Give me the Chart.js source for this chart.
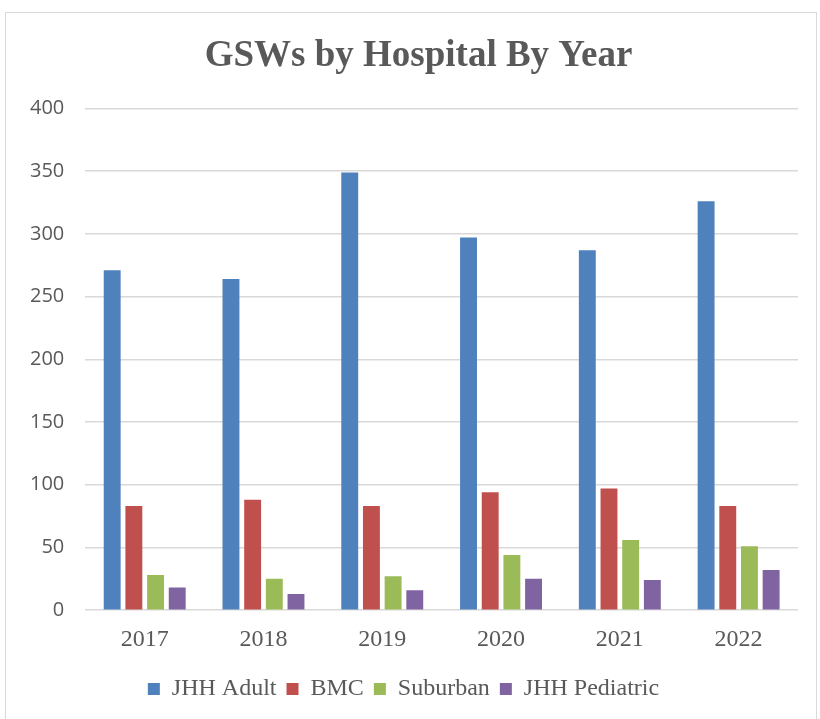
<!DOCTYPE html>
<html>
<head>
<meta charset="utf-8">
<script src="https://cdn.jsdelivr.net/npm/chart.js@4"></script>
<style>
  html, body { margin: 0; padding: 0; background: #fff; }
  #frame {
    position: absolute; left: 5px; top: 12px;
    width: 812px; height: 720px;
    border: 1px solid #d9d9d9; box-sizing: border-box;
  }
  #wrap { position: absolute; left: 0; top: 0; width: 820px; height: 719px; }
</style>
</head>
<body>
<div id="frame"></div>
<div id="wrap"><canvas id="gswChart"></canvas></div>
<script>
// years on the x axis
const years = ["2017", "2018", "2019", "2020", "2021", "2022"];
// GSW counts per hospital
const jhhAdult = [271, 264, 349, 297, 287, 326];
const bmc = [83, 88, 83, 94, 97, 83];
const suburban = [28, 25, 27, 44, 56, 51];
const jhhPediatric = [18, 13, 16, 25, 24, 32];

const textGray = "#595959";
const serif = "'Liberation Serif', 'Times New Roman', serif";

function makeSet(label, data, color) {
  return {
    label: label,
    data: data,
    backgroundColor: color,
    borderWidth: 0,
    barPercentage: 0.78,
    categoryPercentage: 0.73,
  };
}

// nudge the title sideways, like the original
const boxShift = {
  id: "boxShift",
  afterUpdate(chart) {
    chart.titleBlock.left += 15;
    chart.titleBlock.right += 15;
  },
};

const ctx = document.getElementById("gswChart").getContext("2d");
new Chart(ctx, {
  type: "bar",
  data: {
    labels: years,
    datasets: [
      makeSet("JHH Adult", jhhAdult, "#4f81bd"),
      makeSet("BMC", bmc, "#c0504d"),
      makeSet("Suburban", suburban, "#9bbb59"),
      makeSet("JHH Pediatric", jhhPediatric, "#8064a2"),
    ],
  },
  plugins: [boxShift],
  options: {
    responsive: true,
    maintainAspectRatio: false,
    animation: false,
    layout: { padding: { left: 9, right: 22, top: 34, bottom: 8 } },
    plugins: {
      title: {
        display: true,
        text: "GSWs by Hospital By Year",
        color: textGray,
        font: { family: serif, size: 37, weight: "bold" },
        padding: { top: 0, bottom: 30 },
      },
      legend: {
        position: "bottom",
        labels: {
          color: textGray,
          font: { family: serif, size: 24 },
          boxWidth: 12,
          boxHeight: 12,
          padding: 10,
        },
      },
      tooltip: { enabled: false },
    },
    scales: {
      x: {
        grid: { display: false, drawTicks: false },
        border: { display: false },
        ticks: {
          color: textGray,
          font: { family: serif, size: 24 },
          padding: 15,
        },
        afterFit(scale) {
          scale.height -= 2;
        },
      },
      y: {
        min: 0,
        max: 400,
        ticks: {
          stepSize: 50,
          color: textGray,
          font: { family: "'Open Sans', sans-serif", size: 20 },
          padding: 21,
        },
        grid: { color: "#d9d9d9", lineWidth: 1.5, drawTicks: false },
        border: { display: false },
      },
    },
  },
});
</script>
</body>
</html>
